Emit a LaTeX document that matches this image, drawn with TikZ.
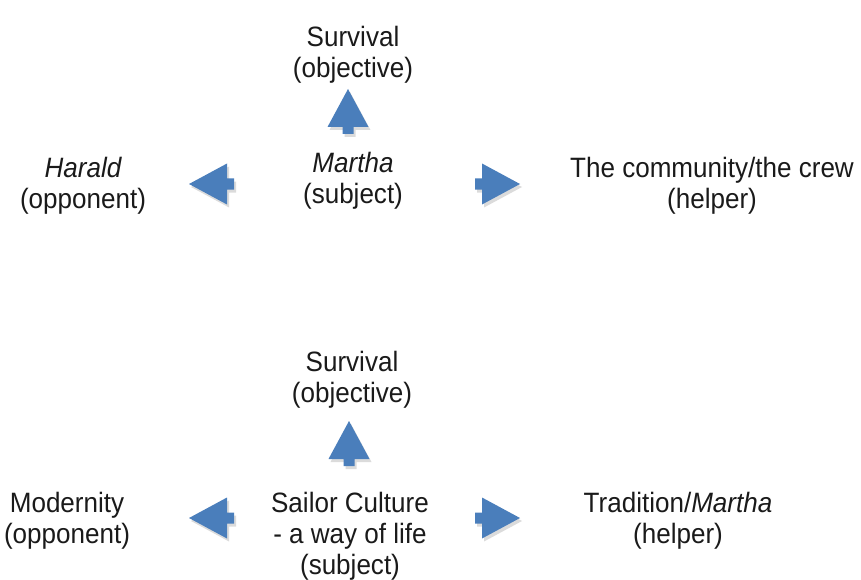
\documentclass[tikz,border=0pt]{standalone}
\usepackage{fontspec}
\setmainfont{Liberation Sans}[FakeStretch=0.93]
\definecolor{arrowblue}{HTML}{4A7EBB}
\definecolor{txt}{HTML}{1A1A1A}
\begin{document}
\begin{tikzpicture}[x=1pt,y=-1pt,
  lbl/.style={align=center,font=\fontsize{28}{31}\selectfont,inner sep=0pt,text=txt},
  arrowbody/.style={fill=arrowblue},
  arrowshade/.style={fill=black,opacity=0.14},
  blockarrow/.pic={\path[#1] (-7,-5.5) -- (0,-5.5) -- (0,-20.5) -- (38,0) -- (0,20.5) -- (0,5.5) -- (-7,5.5) -- cycle;}]
\useasboundingbox (0,0) rectangle (861,580);
% ---------- top diagram ----------
\node[lbl] (obj1) at (353,55) {Survival\\(objective)};
\node[lbl] (sub1) at (353,181) {\itshape Martha\\(subject)};
\node[lbl] (opp1) at (83,186) {\itshape Harald\\(opponent)};
\node[lbl] (hlp1) at (712,186) {The community/the crew\\(helper)};
\coordinate (up1) at (348,127);
\coordinate (lf1) at (227,184);
\coordinate (rt1) at (482,184);
\foreach \p/\r in {up1/90,lf1/180,rt1/0}{
  \pic[rotate=\r] at ([shift={(2,3)}]\p) {blockarrow=arrowshade};
  \pic[rotate=\r] at (\p) {blockarrow=arrowbody};
}
% ---------- bottom diagram ----------
\node[lbl] (obj2) at (352,380) {Survival\\(objective)};
\node[lbl] (sub2) at (350,536) {Sailor Culture\\- a way of life\\(subject)};
\node[lbl] (opp2) at (67,521) {Modernity\\(opponent)};
\node[lbl] (hlp2) at (678,521) {Tradition/\textit{Martha}\\(helper)};
\coordinate (up2) at (349,459);
\coordinate (lf2) at (227,518);
\coordinate (rt2) at (482,518);
\foreach \p/\r in {up2/90,lf2/180,rt2/0}{
  \pic[rotate=\r] at ([shift={(2,3)}]\p) {blockarrow=arrowshade};
  \pic[rotate=\r] at (\p) {blockarrow=arrowbody};
}
\end{tikzpicture}
\end{document}
